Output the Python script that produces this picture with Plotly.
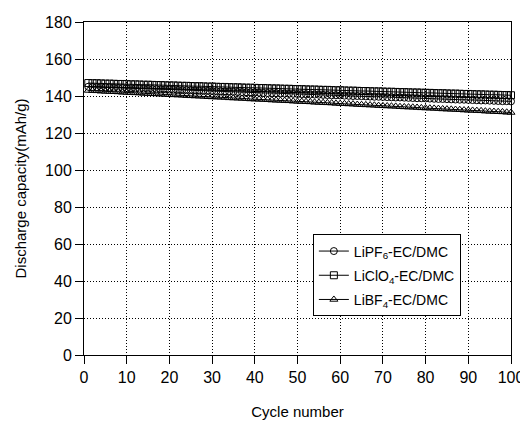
import plotly.graph_objects as go

cycles = list(range(1, 101))

lipf6 = [145.0,144.9,144.8,144.8,144.7,144.6,144.5,144.4,144.4,144.3,
144.2,144.1,144.0,144.0,143.9,143.8,143.7,143.6,143.6,143.5,
143.4,143.3,143.2,143.2,143.1,143.0,142.9,142.8,142.8,142.7,
142.6,142.5,142.4,142.4,142.3,142.2,142.1,142.0,142.0,141.9,
141.8,141.7,141.6,141.6,141.5,141.4,141.3,141.2,141.2,141.1,
141.0,140.9,140.8,140.8,140.7,140.6,140.5,140.4,140.4,140.3,
140.2,140.1,140.0,140.0,139.9,139.8,139.7,139.6,139.6,139.5,
139.4,139.3,139.2,139.2,139.1,139.0,138.9,138.8,138.8,138.7,
138.6,138.5,138.4,138.4,138.3,138.2,138.1,138.0,138.0,137.9,
137.8,137.7,137.6,137.6,137.5,137.4,137.3,137.2,137.2,137.1]

liclo4 = [147.0,146.9,146.9,146.8,146.7,146.7,146.6,146.5,146.5,146.4,
146.3,146.3,146.2,146.1,146.1,146.0,145.9,145.9,145.8,145.7,
145.7,145.6,145.5,145.5,145.4,145.3,145.3,145.2,145.1,145.1,
145.0,144.9,144.9,144.8,144.7,144.7,144.6,144.5,144.5,144.4,
144.3,144.3,144.2,144.1,144.1,144.0,143.9,143.9,143.8,143.7,
143.7,143.6,143.5,143.5,143.4,143.3,143.3,143.2,143.1,143.1,
143.0,142.9,142.9,142.8,142.7,142.7,142.6,142.5,142.5,142.4,
142.3,142.3,142.2,142.1,142.1,142.0,141.9,141.9,141.8,141.7,
141.7,141.6,141.5,141.5,141.4,141.3,141.3,141.2,141.1,141.1,
141.0,140.9,140.9,140.8,140.7,140.7,140.6,140.5,140.5,140.4]

libf4 = [143.0,142.9,142.8,142.6,142.5,142.4,142.3,142.2,142.0,141.9,
141.8,141.7,141.6,141.4,141.3,141.2,141.1,141.0,140.8,140.7,
140.6,140.5,140.4,140.2,140.1,140.0,139.9,139.8,139.6,139.5,
139.4,139.3,139.2,139.0,138.9,138.8,138.7,138.6,138.4,138.3,
138.2,138.1,138.0,137.8,137.7,137.6,137.5,137.4,137.2,137.1,
137.0,136.9,136.8,136.6,136.5,136.4,136.3,136.2,136.0,135.9,
135.8,135.7,135.6,135.4,135.3,135.2,135.1,135.0,134.8,134.7,
134.6,134.5,134.4,134.2,134.1,134.0,133.9,133.8,133.6,133.5,
133.4,133.3,133.2,133.0,132.9,132.8,132.7,132.6,132.4,132.3,
132.2,132.1,132.0,131.8,131.7,131.6,131.5,131.4,131.2,131.1]

series_names = ["LiPF<sub>6</sub>-EC/DMC", "LiClO<sub>4</sub>-EC/DMC", "LiBF<sub>4</sub>-EC/DMC"]
symbols = ["circle-open", "square-open", "triangle-up-open"]

x_ticks = list(range(0, 101, 10))
y_ticks = list(range(0, 181, 20))

fig = go.Figure()
for i, (name, ys, sym) in enumerate(zip(series_names, [lipf6, liclo4, libf4], symbols)):
    fig.add_trace(go.Scatter(
        x=cycles, y=ys, name=name, mode="lines+markers",
        line=dict(color="black", width=1),
        marker=dict(symbol=sym, size=7, color="black", line=dict(width=1, color="black")),
        cliponaxis=False, legendgroup=f"g{i}",
    ))

font = "Liberation Sans, Arial, sans-serif"
fig.update_layout(
    width=520, height=417,
    margin=dict(l=76, r=17, t=14, b=70),
    paper_bgcolor="white", plot_bgcolor="white",
    font=dict(family=font, color="black", size=15),
    showlegend=True,
    legend=dict(
        x=0.536, y=0.362, xanchor="left", yanchor="top",
        bgcolor="white", bordercolor="black", borderwidth=1,
        font=dict(family=font, size=14, color="black"),
        tracegroupgap=3, itemwidth=30,
    ),
)
fig.update_xaxes(
    range=[0, 100], tickvals=x_ticks, ticks="outside", ticklen=8, tickcolor="black",
    showline=True, linecolor="black", linewidth=1, mirror=True,
    showgrid=True, gridcolor="black", griddash="1px,2px", gridwidth=1,
    zeroline=False, tickfont=dict(size=16), automargin=False,
    title=dict(text="Cycle number", font=dict(size=15), standoff=21),
)
fig.update_yaxes(
    range=[0, 180], tickvals=y_ticks, ticks="outside", ticklen=8, tickcolor="black",
    showline=True, linecolor="black", linewidth=1, mirror=True,
    showgrid=True, gridcolor="black", griddash="1px,2px", gridwidth=1,
    zeroline=False, tickfont=dict(size=16), automargin=False,
    title=dict(text="Discharge capacity(mAh/g)", font=dict(size=15), standoff=14),
)

fig.write_html("out.html")
